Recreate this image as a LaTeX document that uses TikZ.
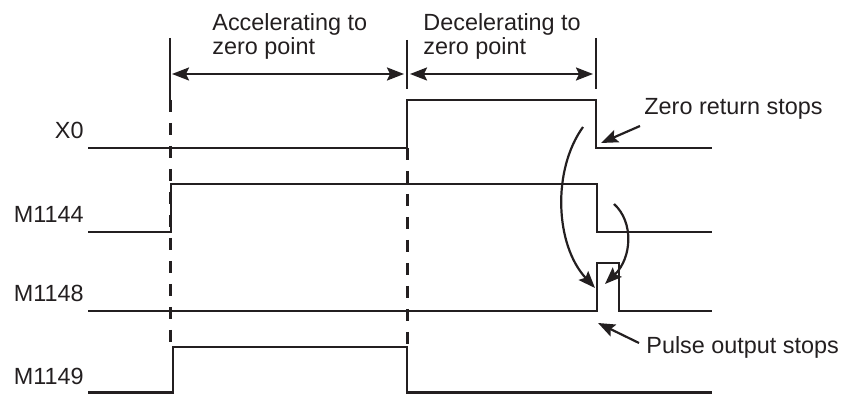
\documentclass[tikz,border=0pt]{standalone}
\usepackage{fontspec}
\setmainfont{Liberation Sans}
\usepackage{xcolor}
\definecolor{ink}{RGB}{35, 31, 32}
\usepackage{tikz}
\usetikzlibrary{arrows.meta, positioning}
\newcommand{\tdfont}{\fontsize{11.7pt}{10.9pt}\selectfont}
\tikzset{
  sigline/.style={draw=ink, line width=1.25pt, line join=miter},
  marker/.style={draw=ink, line width=1.25pt},
  dashmark/.style={draw=ink, line width=1.5pt, dash pattern=on 6pt off 5.5pt},
  dimarrow/.style={<->, draw=ink, line width=1.1pt},
  callout/.style={->, draw=ink, line width=1.1pt},
  siglabel/.style={font=\tdfont, text=ink, inner sep=0pt, anchor=base east},
  notelabel/.style={font=\tdfont, text=ink, inner sep=0pt, anchor=base west},
  spanlabel/.style={font=\tdfont, text=ink, inner sep=0pt, align=left,
    anchor=north west}
}

\begin{document}
\begin{tikzpicture}[x=0.5pt, y=-0.5pt,
  >={Stealth[length=8.5pt, width=6.5pt, inset=1.5pt]}]

  \useasboundingbox (0,0) rectangle (844,394);

  % time marks
  \coordinate (tA) at (170,0);
  \coordinate (tB) at (407,0);
  \coordinate (tC) at (596,0);

  \draw[marker] (170,38) -- (170,100);
  \draw[marker] (407,40) -- (407,89);
  \draw[marker] (596,38) -- (596,89);
  \draw[dashmark] (170,100) -- (170,347);
  \draw[dashmark] (407,148) -- (407,347);

  \coordinate (accL) at (172,74);
  \coordinate (accR) at (404,74);
  \coordinate (decL) at (410,74);
  \coordinate (decR) at (593,74);
  \draw[dimarrow] (accL) -- (accR);
  \draw[dimarrow] (decL) -- (decR);

  \node[spanlabel] (acc) at (212,13.5) {Accelerating to\\zero point};
  \node[spanlabel] (dec) at (423,13.5) {Decelerating to\\zero point};

  % signals
  \node[siglabel] (lx0)   at (84,139) {X0};
  \node[siglabel] (lm44)  at (84,223) {M1144};
  \node[siglabel] (lm48)  at (84,302) {M1148};
  \node[siglabel] (lm49)  at (84,385) {M1149};

  \draw[sigline] (88,148) -- (407,148) -- (407,100) -- (596,100)
    -- (596,148) -- (712,148);
  \draw[sigline] (88,232) -- (171,232) -- (171,184) -- (597,184)
    -- (597,232) -- (712,232);
  \draw[sigline] (88,311) -- (597,311) -- (597,263) -- (619,263)
    -- (619,311) -- (712,311);
  \draw[sigline] (88,392.5) -- (173,392.5) -- (173,347) -- (407,347)
    -- (407,392.5) -- (712,392.5);

  % notes
  \node[notelabel] (zrs) at (644,115) {Zero return stops};
  \node[notelabel] (pos) at (646,354) {Pulse output stops};

  \coordinate (zrsT) at (640,126);
  \coordinate (x0fall) at (601,143);
  \coordinate (posT) at (639,343);
  \coordinate (m48fall) at (598,323);
  \draw[callout] (zrsT) -- (x0fall);
  \draw[callout] (posT) -- (m48fall);

  \coordinate (c1s) at (583,127);
  \coordinate (c1e) at (595,288);
  \coordinate (c2s) at (614,204);
  \coordinate (c2e) at (605,284);
  \draw[callout] (c1s) .. controls (552,170) and (555,245) .. (c1e);
  \draw[callout] (c2s) .. controls (634,222) and (632,258) .. (c2e);

\end{tikzpicture}
\end{document}
